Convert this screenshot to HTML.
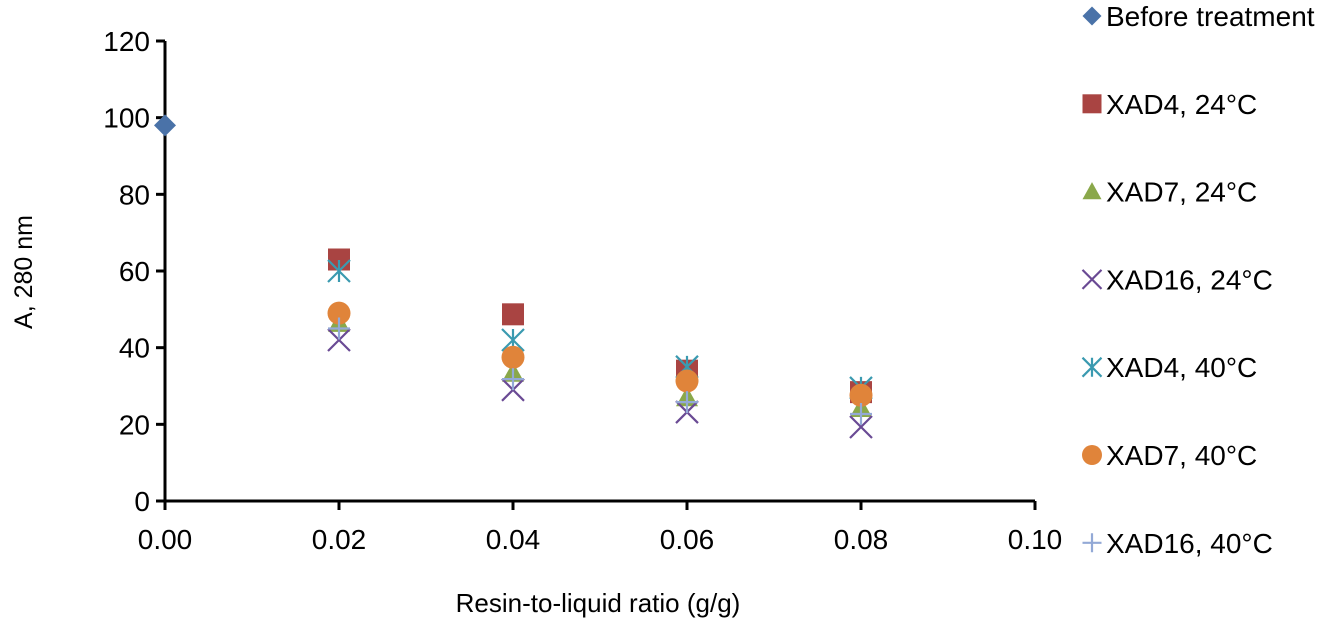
<!DOCTYPE html>
<html><head><meta charset="utf-8"><style>
body{margin:0;background:#fff;width:1328px;height:621px;overflow:hidden}
svg text{font-family:"Liberation Sans",Arial,sans-serif;fill:#000}
</style></head><body>
<svg id="chart" width="1328" height="621" xmlns="http://www.w3.org/2000/svg">
<g id="axes"></g>
<g id="marks"></g>
<g id="legend"></g>
<text x="598" y="612" font-size="26" text-anchor="middle">Resin-to-liquid ratio (g/g)</text>
<text transform="translate(32,272) rotate(-90)" font-size="25" text-anchor="middle">A, 280 nm</text>
</svg>
<script>
const xTicks=[0,0.02,0.04,0.06,0.08,0.10];
const xTickLabels=["0.00","0.02","0.04","0.06","0.08","0.10"];
const yTicks=[0,20,40,60,80,100,120];
const seriesNames=["Before treatment","XAD4, 24°C","XAD7, 24°C","XAD16, 24°C","XAD4, 40°C","XAD7, 40°C","XAD16, 40°C"];
const xBefore=[0];
const yBefore=[98];
const xTreated=[0.02,0.04,0.06,0.08];
const yXad4_24=[63,48.7,34,28.4];
const yXad7_24=[46.4,33.4,27,24.2];
const yXad16_24=[42,29,23.2,19.3];
const yXad4_40=[60,42,35,29.5];
const yXad7_40=[49,37.5,31.3,27.6];
const yXad16_40=[45,31.8,25.8,22.7];

const NS="http://www.w3.org/2000/svg";
const X0=165,X1=1035,Y0=501,Y1=41;
const sx=v=>X0+(v-0)/(0.10)*(X1-X0);
const sy=v=>Y0-(v/120)*(Y0-Y1);
function mk(tag,attrs,parent){const e=document.createElementNS(NS,tag);for(const k in attrs)e.setAttribute(k,attrs[k]);parent.appendChild(e);return e;}
const axes=document.getElementById('axes');
let a=mk('line',{x1:X0,y1:Y1,x2:X0,y2:Y0,stroke:'#000','stroke-width':3},axes);


a=mk('line',{x1:X0,y1:Y0,x2:X1,y2:Y0,stroke:'#000','stroke-width':3},axes);


yTicks.forEach(v=>{
 const t=mk('line',{x1:X0-9,y1:sy(v),x2:X0,y2:sy(v),stroke:'#000','stroke-width':3},axes);
 
 
 const l=mk('text',{x:X0-15,y:sy(v)+10,'font-size':28,'text-anchor':'end'},axes);
 l.textContent=v;
 
 
});
xTicks.forEach((v,i)=>{
 const t=mk('line',{x1:sx(v),y1:Y0,x2:sx(v),y2:Y0+9,stroke:'#000','stroke-width':3},axes);
 
 
 const l=mk('text',{x:sx(v),y:Y0+48,'font-size':28,'text-anchor':'middle'},axes);
 l.textContent=xTickLabels[i];
 
 
});
function marker(type,cx,cy,p,s){
 const g=mk('g',{},p);
 if(type==='diamond')mk('polygon',{points:`${cx},${cy-s} ${cx+s},${cy} ${cx},${cy+s} ${cx-s},${cy}`,fill:'#4a72a8'},g);
 if(type==='square')mk('rect',{x:cx-s,y:cy-s,width:s*2,height:s*2,fill:'#a94442'},g);
 if(type==='triangle')mk('polygon',{points:`${cx},${cy-s} ${cx+s},${cy+s*0.8} ${cx-s},${cy+s*0.8}`,fill:'#8aa84a'},g);
 if(type==='x'){mk('path',{d:`M${cx-s} ${cy-s}L${cx+s} ${cy+s}M${cx+s} ${cy-s}L${cx-s} ${cy+s}`,stroke:'#6a4a94','stroke-width':2.2},g);}
 if(type==='star'){mk('path',{d:`M${cx-s} ${cy-s}L${cx+s} ${cy+s}M${cx+s} ${cy-s}L${cx-s} ${cy+s}M${cx} ${cy-s}L${cx} ${cy+s}`,stroke:'#3a9ab0','stroke-width':2.2},g);}
 if(type==='circle')mk('circle',{cx:cx,cy:cy,r:s,fill:'#e0843a'},g);
 if(type==='plus'){mk('path',{d:`M${cx-s} ${cy}L${cx+s} ${cy}M${cx} ${cy-s}L${cx} ${cy+s}`,stroke:'#93a9d6','stroke-width':2.2},g);}
 return g;
}
const marks=document.getElementById('marks');
const series=[
 ['diamond',xBefore,yBefore,'before-treatment'],
 ['square',xTreated,yXad4_24,'xad4-24c'],
 ['triangle',xTreated,yXad7_24,'xad7-24c'],
 ['x',xTreated,yXad16_24,'xad16-24c'],
 ['star',xTreated,yXad4_40,'xad4-40c'],
 ['circle',xTreated,yXad7_40,'xad7-40c'],
 ['plus',xTreated,yXad16_40,'xad16-40c']
];
series.forEach(s=>{
 s[1].forEach((xv,i)=>{
  const g=marker(s[0],sx(xv),sy(s[2][i]),marks,s[0]==='circle'?11.5:11);
  
  
 });
});
const legend=document.getElementById('legend');
seriesNames.forEach((n,i)=>{
 const y=16+i*87.8;
 const g=mk('g',{},legend);
 
 
 marker(series[i][0],1092,y,g,series[i][0]==='circle'?10:9.5);
 const t=mk('text',{x:1106,y:y+10,'font-size':28},g);
 t.textContent=n;
});
</script>
</body></html>
